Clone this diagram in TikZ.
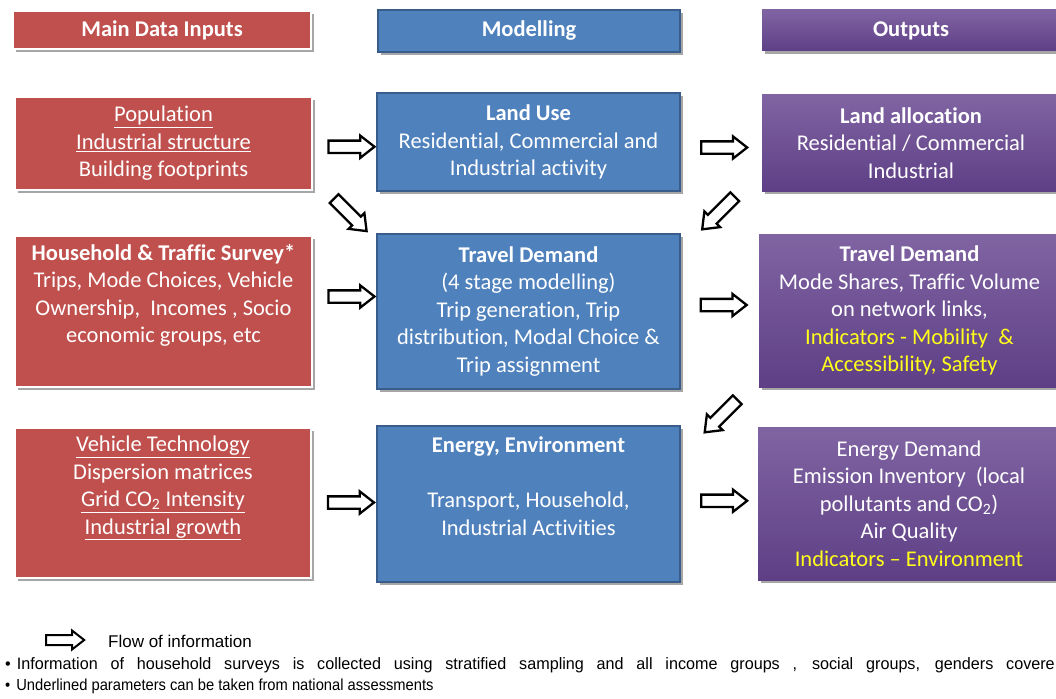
\documentclass[tikz,border=0pt]{standalone}
\usepackage{fontspec}
\setmainfont{Carlito}[Ligatures=NoCommon]
\newfontfamily\legendfont[FakeStretch=0.92]{Liberation Sans}
\newfontfamily\legendwide[FakeStretch=0.98]{Liberation Sans}
\newfontfamily\flowfont[FakeStretch=1.0]{Liberation Sans}
\usetikzlibrary{shapes.arrows,shadows,calc}
\definecolor{cred}{HTML}{C0504D}
\definecolor{cblue}{HTML}{4F81BD}
\definecolor{cblueline}{HTML}{385D8A}
\definecolor{cpurtop}{HTML}{8064A2}
\definecolor{cpurbot}{HTML}{5E3F86}
\definecolor{cyel}{HTML}{FFFF1A}
\newcommand{\bxfont}{\fontsize{22.5}{27.5}\selectfont}
\newcommand{\yel}[1]{\textcolor{cyel}{#1}}
\begin{document}
\begin{tikzpicture}[x=1pt,y=-1pt,
  shad/.style={drop shadow={shadow xshift=2.5pt, shadow yshift=-3pt, opacity=0.35, fill=black}},
  bx/.style={rectangle, align=center, text=white, inner sep=0pt, font=\bxfont},
  redbox/.style={bx, fill=cred, draw=white, line width=1.5pt, shad},
  bluebox/.style={bx, fill=cblue, draw=cblueline, line width=1.3pt, shad},
  purbox/.style={bx, top color=cpurtop, bottom color=cpurbot, draw=none, shad},
  flowarrow/.style={single arrow, draw=black, fill=white, line width=2.3pt,
    minimum height=46pt, inner xsep=0pt, inner ysep=5pt,
    single arrow head extend=5pt, single arrow tip angle=76, anchor=center},
  legarrow/.style={flowarrow, line width=2pt, minimum height=38pt, inner ysep=4pt, single arrow head extend=4.5pt}
]
\useasboundingbox (0,0) rectangle (1056,698);
\fill[white] (0,0) rectangle (1056,698);
\clip (0,0) rectangle (1056,698);

% headers
\node[redbox, minimum width=298pt, minimum height=38pt] (hin) at (162,30) {\bfseries Main Data Inputs};
\node[bluebox, minimum width=302pt, minimum height=42pt] (hmod) at (529,31) {\bfseries Modelling};
\node[purbox, minimum width=298pt, minimum height=41pt] (hout) at (911,30.5) {\bfseries Outputs};

% row 1
\node[redbox, minimum width=297pt, minimum height=93pt] (in1) at (163.5,143.5)
  {\underline{Population}\\ \underline{Industrial structure}\\ Building footprints};
\node[bluebox, minimum width=303pt, minimum height=98pt] (lu) at (528.5,142)
  {\textbf{Land Use}\\ Residential, Commercial and\\ Industrial activity};
\node[purbox, minimum width=298pt, minimum height=96pt] (la) at (911,143)
  {\textbf{Land allocation}\\ Residential / Commercial\\ Industrial};

% row 2
\node[redbox, minimum width=297pt, minimum height=151pt] (in2) at (163.5,311.5)
  {\textbf{Household \& Traffic Survey*}\\ Trips, Mode Choices, Vehicle\\ Ownership,\ \ Incomes , Socio\\ economic groups, etc\\ \strut};
\node[bluebox, minimum width=303pt, minimum height=155pt] (td) at (528.5,311.5)
  {\textbf{Travel Demand}\\ (4 stage modelling)\\ Trip generation, Trip\\ distribution, Modal Choice \&\\ Trip assignment};
\node[purbox, minimum width=301pt, minimum height=153pt] (otd) at (909.5,310.5)
  {\textbf{Travel Demand}\\ Mode Shares, Traffic Volume\\ on network links,\\ \yel{Indicators - Mobility\ \ \&}\\ \yel{Accessibility, Safety}};

% row 3
\node[redbox, minimum width=296pt, minimum height=150pt] (in3) at (163,503)
  {\underline{Vehicle Technology}\\ Dispersion matrices\\ \underline{Grid CO\textsubscript{2} Intensity}\\ \underline{Industrial growth}\\ \strut};
\node[bluebox, minimum width=303pt, minimum height=156pt] (en) at (528.5,504)
  {\textbf{Energy, Environment}\\ \strut\\ Transport, Household,\\ Industrial Activities\\ \strut};
\node[purbox, minimum width=302pt, minimum height=153pt] (oe) at (909,503.5)
  {Energy Demand\\ Emission Inventory\ \ (local\\ pollutants and CO\textsubscript{2})\\ Air Quality\\ \yel{Indicators -- Environment}};

% flow arrows
\node[flowarrow] (a1) at ($(in1.east)!0.5!(lu.west)+(3,4)$) {};
\node[flowarrow] (a2) at ($(lu.east)!0.5!(la.west)+(-1,5)$) {};
\node[flowarrow, rotate=-45] (a3) at ($(in1.south east)!0.5!(td.north west)+(3,0)$) {};
\node[flowarrow, rotate=-135] (a4) at ($(la.south west)!0.5!(td.north east)+(0,-2)$) {};
\node[flowarrow] (a5) at ($(in2.east)!0.5!(td.west)+(3,-15)$) {};
\node[flowarrow] (a6) at ($(td.east)!0.5!(otd.west)+(0,-6)$) {};
\node[flowarrow, rotate=-135] (a7) at ($(otd.south west)!0.5!(en.north east)+(4,7)$) {};
\node[flowarrow] (a8) at ($(in3.east)!0.5!(en.west)+(3,-1)$) {};
\node[flowarrow] (a9) at ($(en.east)!0.5!(oe.west)+(1,-3)$) {};

% legend
\node[legarrow] (leg) at (62,640) {};
\node[anchor=west, inner sep=0pt, font=\flowfont\fontsize{17}{20}\selectfont] (legtxt) at (108,641) {Flow of information};
\node[anchor=west, inner sep=0pt, font=\legendwide\fontsize{16.5}{19}\selectfont] (n1) at (5,665)
  {\textbullet\hspace{6pt}\makebox[1038pt][s]{Information of household surveys is collected using stratified sampling and all income groups , social groups, genders covere}};
\node[anchor=west, inner sep=0pt, font=\legendfont\fontsize{16}{19}\selectfont] (n2) at (5,686)
  {\textbullet\hspace{6pt}Underlined parameters can be taken from national assessments};
\end{tikzpicture}
\end{document}
